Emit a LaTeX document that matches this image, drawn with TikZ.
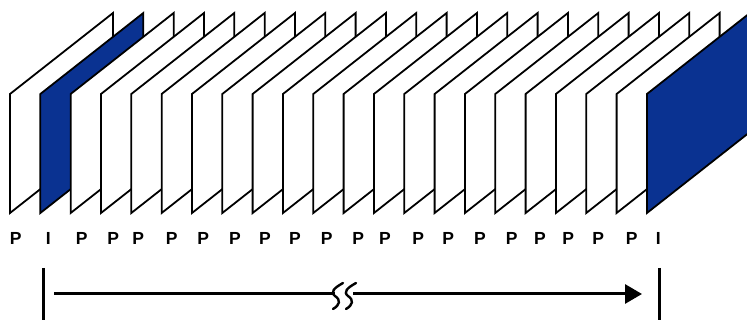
\documentclass[tikz,border=0pt]{standalone}
\usepackage{fontspec}
\setmainfont{Liberation Sans}
\usetikzlibrary{arrows.meta}
\definecolor{framblue}{RGB}{10,50,145}
\tikzset{
  frame/.style={draw=black,line width=1.8pt,fill=white,line join=miter},
  bframe/.style={frame,fill=framblue},
  lbl/.style={inner sep=0pt,font=\fontsize{17.5}{17.5}\selectfont\bfseries},
  bar/.style={line width=3pt},
  tline/.style={line width=3pt},
  brk/.style={line width=2.4pt,line cap=round},
}
\begin{document}
\begin{tikzpicture}[x=1pt,y=-1pt]
\useasboundingbox (0,0) rectangle (747,320);
\clip (0,0) rectangle (747,320);
\fill[white] (0,0) rectangle (747,320);
% frames, back to front
\foreach \i in {0,...,21}{
  \pgfmathsetmacro{\xl}{10+30.33*\i}
  \ifnum\i=1 \def\sty{bframe}\else\ifnum\i=21 \def\sty{bframe}\else\def\sty{frame}\fi\fi
  \draw[\sty] (\xl,213) -- (\xl,94) -- (\xl+103,13) -- (\xl+103,132) -- cycle;
}
% labels
\foreach \x/\t [count=\k] in {15.7/P,48.3/I,81.7/P,113.3/P,138.3/P,171.7/P,203.3/P,235/P,265/P,295/P,326.7/P,358.3/P,385/P,418.3/P,448.3/P,480/P,511.7/P,540/P,568.3/P,598.3/P,631.7/P,658.3/I}{
  \node[lbl] (l\k) at (\x,238) {\t};
}
% bars
\coordinate (b1t) at (43,268);
\coordinate (b1b) at (43,322);
\coordinate (b2t) at (659,268);
\coordinate (b2b) at (659,322);
\draw[bar] (b1t) -- (b1b);
\draw[bar] (b2t) -- (b2b);
% arrow with break
\coordinate (as) at (54,294);
\coordinate (bl) at (335,294);
\coordinate (br) at (353,294);
\coordinate (ae) at (642,294);
\draw[tline] (as) -- (bl);
\draw[tline,-{Triangle[length=17pt,width=19pt]}] (br) -- (ae);
\draw[brk] (343,283) .. controls (334,288) and (330,292) .. (335,296) .. controls (341,300) and (340,305) .. (333,309);
\draw[brk] (356,283) .. controls (347,288) and (343,292) .. (348,296) .. controls (354,300) and (353,305) .. (346,309);
\end{tikzpicture}
\end{document}
